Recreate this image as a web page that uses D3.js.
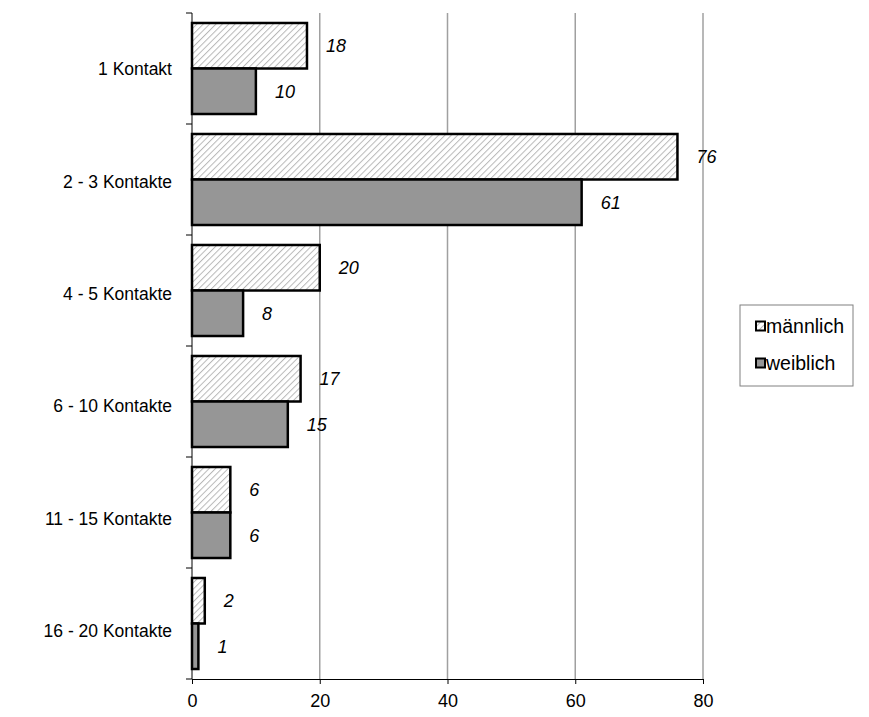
<!DOCTYPE html>
<html>
<head>
<meta charset="utf-8">
<script src="https://cdn.jsdelivr.net/npm/d3@7/dist/d3.min.js"></script>
<style>
  html, body { margin: 0; padding: 0; background: #fff; }
  svg { display: block; font-family: Arial, "Liberation Sans", sans-serif; }
</style>
</head>
<body>
<svg id="chart" width="869" height="717"></svg>
<script>
// Number of contacts, split by gender
const categories = ["1 Kontakt", "2 - 3 Kontakte", "4 - 5 Kontakte", "6 - 10 Kontakte", "11 - 15 Kontakte", "16 - 20 Kontakte"];
const seriesNames = ["männlich", "weiblich"];
const maleValues = [18, 76, 20, 17, 6, 2];
const femaleValues = [10, 61, 8, 15, 6, 1];
const xTicks = [0, 20, 40, 60, 80];

const svg = d3.select("#chart");
const margin = { left: 192, top: 13, right: 166, bottom: 38 };
const W = 869, H = 717;
const FONT = "Arial, 'Liberation Sans', sans-serif";

// Diagonal hatch for the male series
const defs = svg.append("defs");
const pat = defs.append("pattern")
  .attr("id", "hatch")
  .attr("patternUnits", "userSpaceOnUse")
  .attr("width", 4.5).attr("height", 4.5)
  .attr("patternTransform", "rotate(45)");
pat.append("rect").attr("width", 4.5).attr("height", 4.5).attr("fill", "#fff");
pat.append("line").attr("x1", 0).attr("y1", 0).attr("x2", 0).attr("y2", 4.5)
  .attr("stroke", "#b8b8b8").attr("stroke-width", 2);

const x = d3.scaleLinear().domain([0, 80]).range([margin.left, W - margin.right]);
const y = d3.scaleBand().domain(categories).range([margin.top, H - margin.bottom]).paddingInner(0.18).paddingOuter(0.09);
const ySub = d3.scaleBand().domain(seriesNames).range([0, y.bandwidth()]);
// Category labels sit on a slightly taller band layout
const yLabel = d3.scaleBand().domain(categories).range([margin.top, H - 30]);

// Vertical gridlines
svg.append("g").selectAll("line").data(xTicks.filter(d => d > 0)).join("line")
  .attr("x1", d => x(d)).attr("x2", d => x(d))
  .attr("y1", margin.top).attr("y2", H - margin.bottom)
  .attr("stroke", "#a0a0a0").attr("stroke-width", 1.5);

const rows = categories.map((c, i) => ({ cat: c, values: [maleValues[i], femaleValues[i]] }));

const groups = svg.append("g").selectAll("g").data(rows).join("g")
  .attr("transform", d => `translate(0,${y(d.cat)})`);

groups.selectAll("rect").data(d => d.values.map((v, j) => ({ name: seriesNames[j], v }))).join("rect")
  .attr("x", x(0))
  .attr("y", d => ySub(d.name))
  .attr("width", d => x(d.v) - x(0))
  .attr("height", ySub.bandwidth())
  .attr("fill", d => d.name === "männlich" ? "url(#hatch)" : "#969696")
  .attr("stroke", "#000").attr("stroke-width", 2.5);

groups.selectAll("text").data(d => d.values.map((v, j) => ({ name: seriesNames[j], v }))).join("text")
  .attr("x", d => x(d.v) + 19)
  .attr("y", d => ySub(d.name) + ySub.bandwidth() / 2)
  .attr("dy", "0.35em")
  .attr("font-style", "italic")
  .attr("font-size", 18)
  .attr("fill", "#000")
  .text(d => d.v);

// Bottom axis
const xAxis = svg.append("g")
  .attr("transform", `translate(0,${H - margin.bottom})`)
  .call(d3.axisBottom(x).tickValues(xTicks).tickSize(5).tickPadding(10).tickSizeOuter(0));
xAxis.select(".domain").attr("stroke", "#000");
xAxis.selectAll("text").attr("font-size", 18).attr("fill", "#000").attr("font-family", FONT);

// Left axis with category separators
const yAxis = svg.append("g").attr("transform", `translate(${margin.left},0)`);
yAxis.append("line").attr("x1", 0).attr("x2", 0)
  .attr("y1", margin.top).attr("y2", H - margin.bottom).attr("stroke", "#000");
const bounds = categories.map(c => y(c) - y.step() * y.paddingInner() / 2);
bounds.push(H - margin.bottom);
bounds[0] = margin.top;
yAxis.selectAll(".sep").data(bounds).join("line").attr("class", "sep")
  .attr("x1", -6).attr("x2", 0)
  .attr("y1", d => d).attr("y2", d => d)
  .attr("stroke", "#000");
yAxis.selectAll("text").data(categories).join("text")
  .attr("x", -20)
  .attr("y", d => yLabel(d) + yLabel.bandwidth() / 2)
  .attr("dy", "0.35em")
  .attr("text-anchor", "end")
  .attr("font-size", 17.5)
  .text(d => d);

// Legend
const legend = svg.append("g").attr("transform", "translate(740,305)");
legend.append("rect").attr("width", 113).attr("height", 81)
  .attr("fill", "#fff").attr("stroke", "#808080").attr("stroke-width", 1);
const items = legend.selectAll(".item").data(seriesNames).join("g").attr("class", "item")
  .attr("transform", (d, i) => `translate(16,${21 + i * 37})`);
items.append("rect").attr("x", 0).attr("y", -4.5).attr("width", 9).attr("height", 9)
  .attr("fill", d => d === "männlich" ? "url(#hatch)" : "#969696")
  .attr("stroke", "#000").attr("stroke-width", 2);
items.append("text").attr("x", 10).attr("dy", "0.35em").attr("font-size", 19.5).text(d => d);
</script>
</body>
</html>
